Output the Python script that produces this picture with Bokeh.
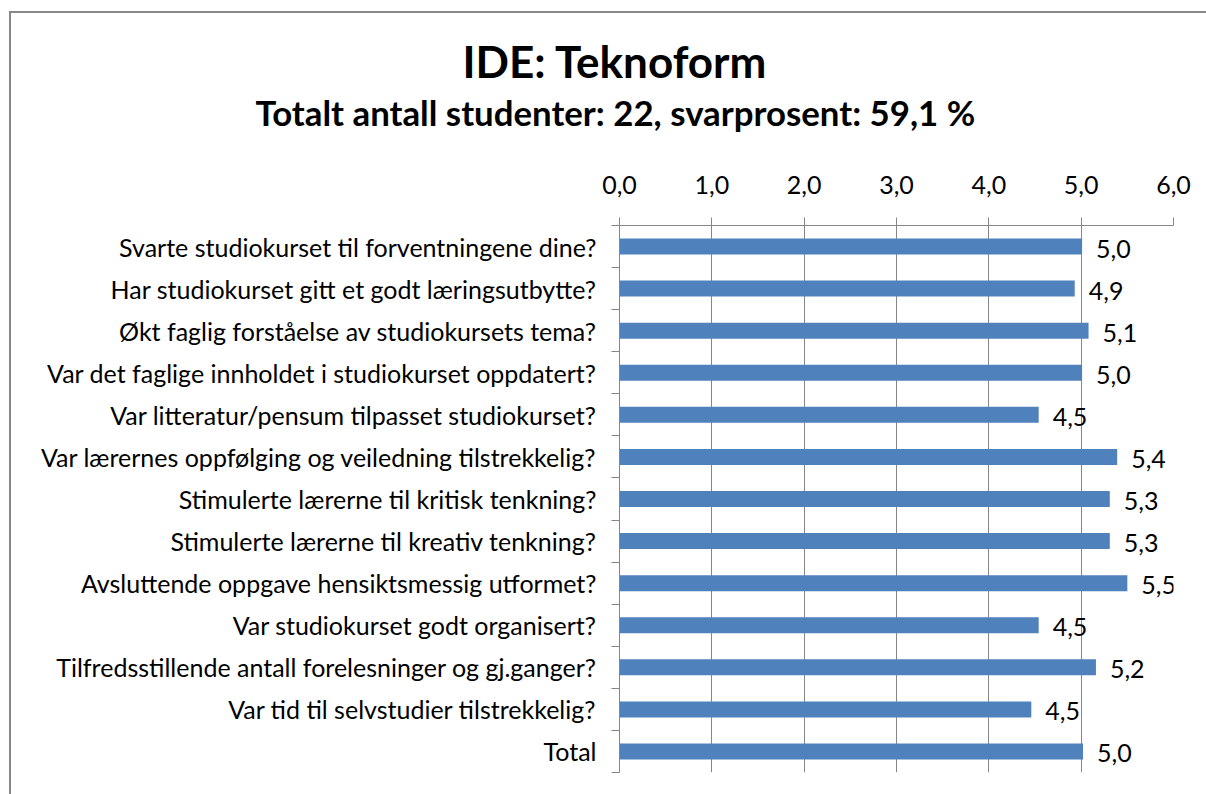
from bokeh.plotting import figure
from bokeh.models import (FixedTicker, CustomJSTickFormatter, Range1d, Title,
                          ColumnDataSource)
from bokeh.core.properties import value
from bokeh.embed import file_html
from bokeh.resources import INLINE

title_text = "IDE: Teknoform"
subtitle_text = "Totalt antall studenter: 22, svarprosent: 59,1 %"

questions = [
    "Svarte studiokurset til forventningene dine?",
    "Har studiokurset gitt et godt læringsutbytte?",
    "Økt faglig forståelse av studiokursets tema?",
    "Var det faglige innholdet i studiokurset oppdatert?",
    "Var litteratur/pensum tilpasset studiokurset?",
    "Var lærernes oppfølging og veiledning tilstrekkelig?",
    "Stimulerte lærerne til kritisk tenkning?",
    "Stimulerte lærerne til kreativ tenkning?",
    "Avsluttende oppgave hensiktsmessig utformet?",
    "Var studiokurset godt organisert?",
    "Tilfredsstillende antall forelesninger og gj.ganger?",
    "Var tid til selvstudier tilstrekkelig?",
    "Total",
]
scores = [5.01, 4.93, 5.08, 5.01, 4.54, 5.39, 5.31, 5.31, 5.50, 4.54, 5.16, 4.46, 5.02]
x_ticks = [0, 1, 2, 3, 4, 5, 6]

FONT = "Lato"
GRID = "#868686"

n = len(questions)
centers = [n - i - 0.5 for i in range(n)]
value_labels = [f"{v:.1f}".replace(".", ",") for v in scores]

# page offsets of the chart border
BL, BT = 9, 11
FW, FH = 554, 547
ML = 619 - BL - 2
MT = 225 - BT - 2
MR = 1206 - BL - 2 - ML - FW
MB = 794 - BT - 2 - MT - FH

p = figure(frame_width=FW, frame_height=FH,
           min_border_left=ML, min_border_right=MR,
           min_border_top=MT, min_border_bottom=MB,
           x_range=Range1d(x_ticks[0], x_ticks[-1]), y_range=Range1d(0, n),
           x_axis_location="above", output_backend="svg",
           toolbar_location=None, tools="")
p.outline_line_color = None
p.background_fill_color = "white"
p.border_fill_color = "white"
p.styles = {"margin-left": f"{BL}px", "margin-top": f"{BT}px",
            "border-left": "2px solid #888888", "border-top": "2px solid #888888"}

# x axis (top)
xa = p.xaxis[0]
xa.ticker = FixedTicker(ticks=x_ticks)
xa.formatter = CustomJSTickFormatter(code="return tick.toFixed(1).replace('.', ',');")
xa.axis_line_color = GRID
xa.major_tick_line_color = GRID
xa.major_tick_out = 8
xa.major_tick_in = 0
xa.minor_tick_line_color = None
xa.major_label_text_font = FONT
xa.major_label_text_font_size = "25px"
xa.major_label_text_color = "black"
xa.major_label_standoff = 24

# y axis (left) with ticks at category boundaries
ya = p.yaxis[0]
ya.ticker = FixedTicker(ticks=centers, minor_ticks=list(range(n + 1)))
ya.formatter = CustomJSTickFormatter(args=dict(labels=questions[::-1]),
                                     code="return labels[Math.floor(tick)];")
ya.axis_line_color = GRID
ya.major_tick_line_color = None
ya.major_tick_out = 0
ya.major_tick_in = 0
ya.minor_tick_line_color = GRID
ya.minor_tick_out = 8
ya.minor_tick_in = 0
ya.major_label_text_font = FONT
ya.major_label_text_font_size = "25px"
ya.major_label_text_color = "black"
ya.major_label_standoff = 15

p.xgrid.grid_line_color = GRID
p.xgrid.ticker = FixedTicker(ticks=x_ticks)
p.ygrid.grid_line_color = None

src = ColumnDataSource(dict(y=centers, v=scores, lab=value_labels))
p.hbar(y="y", left=0, right="v", height=0.38, source=src,
       fill_color="#4F81BD", line_color=None)
p.text(x="v", y="y", text="lab", source=src, x_offset=14, y_offset=2,
       text_baseline="middle", text_align="left",
       text_font=value(FONT), text_font_size="25px", text_color="black")

p.title.text = ""
sub = Title(text=subtitle_text, align="left", offset=255 - 619,
            text_font=FONT, text_font_style="bold",
            text_font_size="34.8px", text_color="black", standoff=79)
ttl = Title(text=title_text, align="left", offset=462 - 619,
            text_font=FONT, text_font_style="bold",
            text_font_size="44px", text_color="black", standoff=-73)
p.add_layout(sub, "above")
p.add_layout(ttl, "above")

open("out.html", "w").write(file_html(p, INLINE))
